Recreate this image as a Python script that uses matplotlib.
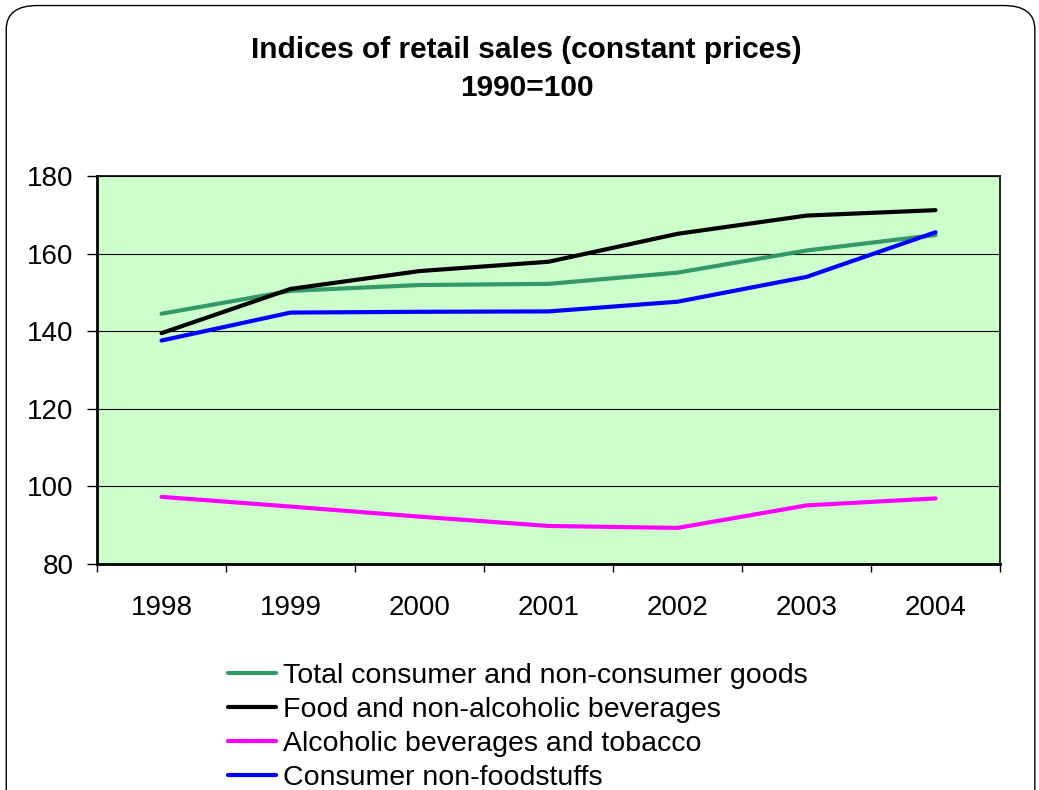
import numpy as np
import matplotlib.pyplot as plt
from matplotlib.patches import FancyBboxPatch

plt.rcParams['font.family'] = ['Liberation Sans', 'DejaVu Sans']

years = ['1998', '1999', '2000', '2001', '2002', '2003', '2004']
total_goods = [144.5, 150.4, 151.9, 152.2, 155.1, 160.8, 164.8]
food_bev = [139.5, 150.9, 155.5, 157.9, 165.1, 169.8, 171.2]
alcohol_tobacco = [97.3, 94.8, 92.2, 89.8, 89.3, 95.1, 96.9]
non_food = [137.6, 144.8, 145.0, 145.1, 147.6, 154.0, 165.5]

series_names = ['Total consumer and non-consumer goods',
                'Food and non-alcoholic beverages',
                'Alcoholic beverages and tobacco',
                'Consumer non-foodstuffs']
series_colors = ['#339966', '#000000', '#FF00FF', '#0000FF']

fig = plt.figure(figsize=(10.39, 7.90), dpi=100)

# rounded frame around the slide chart
frame = FancyBboxPatch((0.006, -0.05), 0.99, 1.043,
                       boxstyle='round,pad=0,rounding_size=0.03',
                       transform=fig.transFigure, facecolor='none',
                       edgecolor='black', linewidth=1.0, zorder=0)
fig.patches.append(frame)

ax = fig.add_axes([0.0934, 0.2861, 0.8691, 0.4911])
ax.set_facecolor('#CCFFCC')

x = np.arange(len(years))
for vals, name, col in zip([total_goods, food_bev, alcohol_tobacco, non_food],
                           series_names, series_colors):
    ax.plot(x, vals, color=col, linewidth=3, label=name, solid_capstyle='round')

ax.set_xlim(-0.5, len(years) - 0.5)
ax.set_ylim(80, 180)
ax.set_yticks(np.arange(80, 181, 20))
ax.tick_params(axis='y', labelsize=20, length=7, width=1, direction='out', pad=10)

ax.set_xticks(x)
ax.set_xticklabels(years)
ax.set_xticks(np.arange(-0.5, len(years), 1), minor=True)
ax.tick_params(axis='x', which='major', length=0, labelsize=20, pad=22)
ax.tick_params(axis='x', which='minor', length=6, width=1, direction='out')

ax.grid(axis='y', color='black', linewidth=0.8)
ax.set_axisbelow(True)
for s in ax.spines.values():
    s.set_color('black')
    s.set_linewidth(1.2)
ax.spines['left'].set_linewidth(2)
ax.spines['bottom'].set_linewidth(2)

fig.text(0.507, 0.937, 'Indices of retail sales (constant prices)',
         ha='center', va='center', fontsize=21.5, fontweight='bold')
fig.text(0.507, 0.889, '1990=100', ha='center', va='center',
         fontsize=21.5, fontweight='bold')

fig.legend(loc='upper left', bbox_to_anchor=(0.2194, 0.1607), frameon=False,
           fontsize=20.5, handlelength=1.7, handletextpad=0.25,
           labelspacing=0.28, borderaxespad=0, borderpad=0)

fig.savefig('out.png', dpi=100)
